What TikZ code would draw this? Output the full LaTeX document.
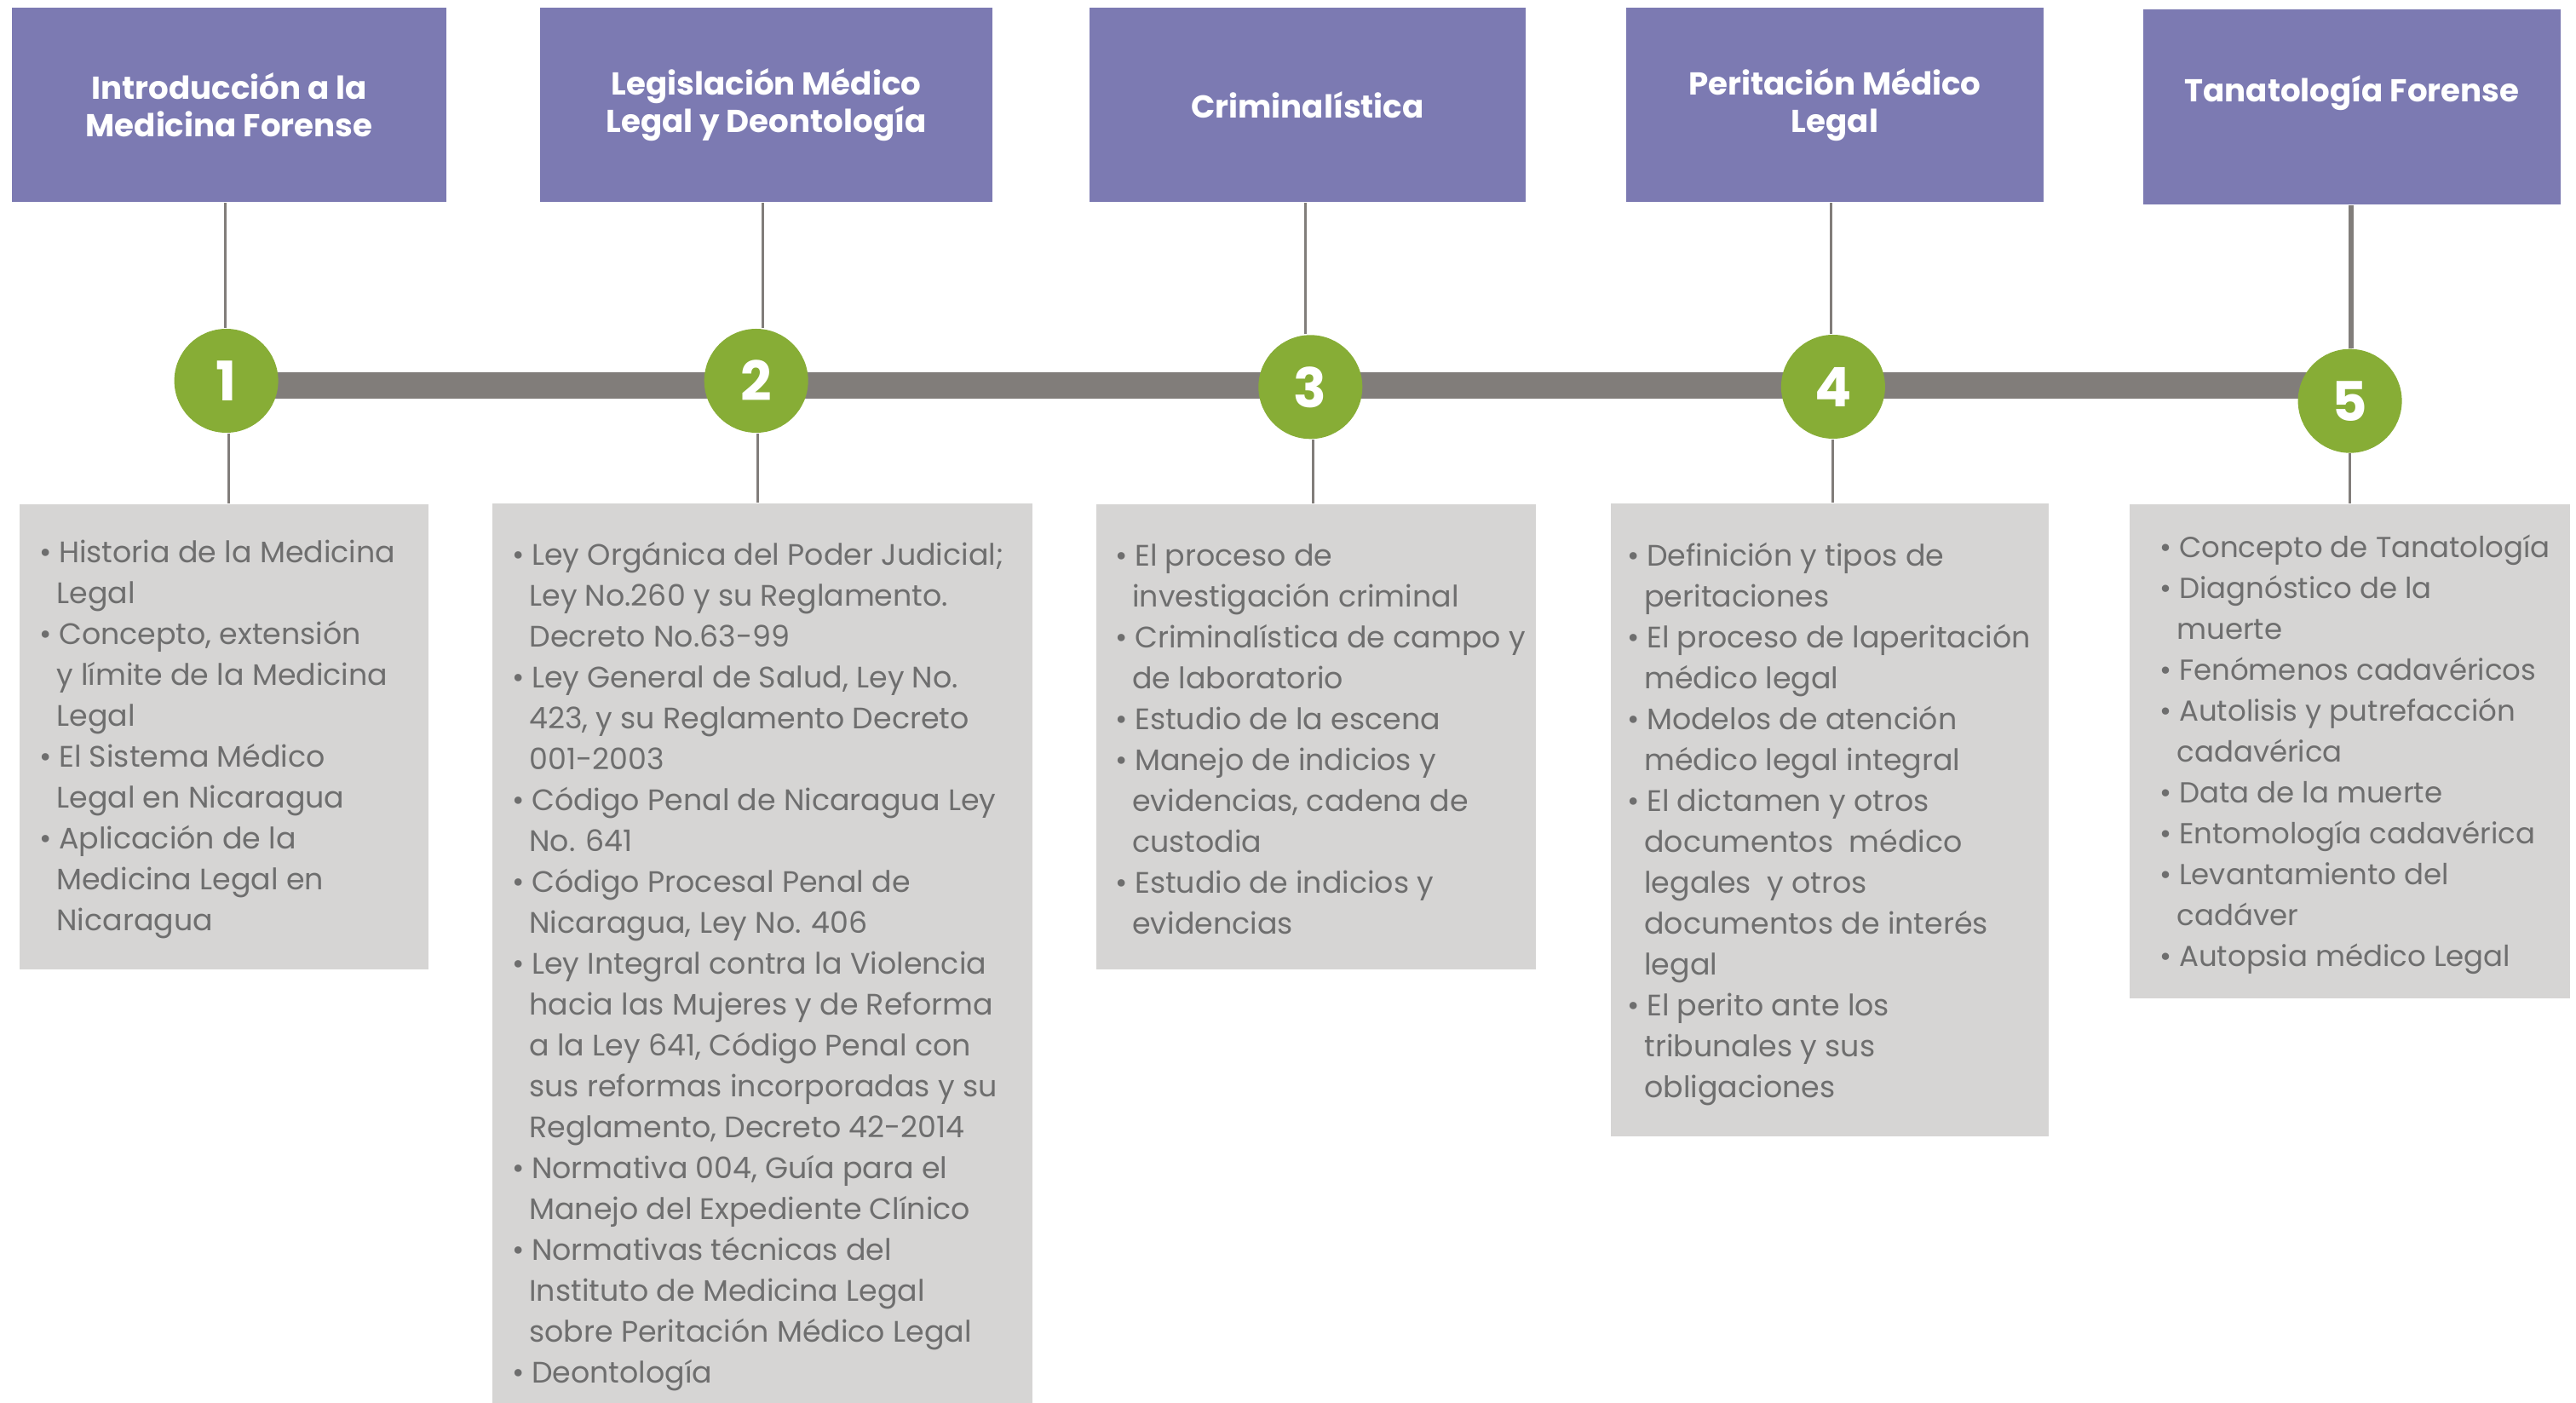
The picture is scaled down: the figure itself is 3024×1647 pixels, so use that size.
\documentclass[tikz,border=0pt]{standalone}
\usepackage{fontspec}
\setmainfont{Poppins}
\usetikzlibrary{backgrounds}
\definecolor{hdr}{HTML}{7C7AB2}
\definecolor{grn}{HTML}{87AD36}
\definecolor{barc}{HTML}{817D7A}
\definecolor{boxc}{HTML}{D6D5D4}
\definecolor{txt}{HTML}{6E6E6E}
\newcommand{\bu}{\makebox[5.6pt][l]{\textbullet}}
\newcommand{\ct}{\hspace*{4.9pt}}
\newcommand{\fs}{\rule{0pt}{10pt}}
\tikzset{
  hdrbox/.style={fill=hdr, draw=none, text=white, font=\fontsize{9.3}{10.9}\selectfont\bfseries, align=center, inner sep=0, minimum height=57pt},
  numc/.style={circle, fill=grn, minimum size=30.5pt, inner sep=0, text=white, font=\fontsize{16}{16}\selectfont\bfseries},
  cbox/.style={fill=boxc, inner sep=0, anchor=north west},
  ctext/.style={anchor=north west, inner sep=0, align=left, text=txt, font=\fontsize{8.7}{12}\selectfont},
  conn/.style={draw=barc, line width=0.75pt},
  bar/.style={draw=barc, line width=7.75pt}
}
\begin{document}
\begin{tikzpicture}[x=0.25pt,y=-0.25pt]
\useasboundingbox (0,0) rectangle (3024,1647);
% headers
\node[hdrbox, minimum width=127.5pt] (h1) at (269,123.4) {Introducción a la\\Medicina Forense};
\node[hdrbox, minimum width=132.8pt] (h2) at (899.5,123.4) {Legislación Médico\\Legal y Deontología};
\node[hdrbox, minimum width=127.8pt] (h3) at (1535,123.4) {Criminalística};
\node[hdrbox, minimum width=122.5pt] (h4) at (2154,123.4) {Peritación Médico\\Legal};
\node[hdrbox, minimum width=122.5pt, minimum height=57.4pt] (h5) at (2761,125.5) {Tanatología Forense\\\mbox{}};
% circles
\node[numc] (c1) at (265.6,447) {1};
\node[numc] (c2) at (887.7,447) {2};
\node[numc] (c3) at (1538.3,454.3) {3};
\node[numc] (c4) at (2151.9,454) {4};
\node[numc] (c5) at (2758.6,470.7) {5};
\coordinate (barY) at (0,452.5);
% content boxes
\node[cbox, minimum width=120pt, minimum height=136.6pt] (b1) at (22.3,591.2) {};
\node[cbox, minimum width=158.5pt, minimum height=264.3pt] (b2) at (577.2,589.8) {};
\node[cbox, minimum width=129pt, minimum height=136.6pt] (b3) at (1286,591.1) {};
\node[cbox, minimum width=128.6pt, minimum height=185.9pt] (b4) at (1889.8,590) {};
\node[cbox, minimum width=129.3pt, minimum height=145pt] (b5) at (2499,590.8) {};
% texts
\node[ctext] (t1) at (46,620) {\fs\bu Historia de la Medicina\\
\ct Legal\\
\bu Concepto, extensión\\
\ct y límite de la Medicina\\
\ct Legal\\
\bu El Sistema Médico\\
\ct Legal en Nicaragua\\
\bu Aplicación de la\\
\ct Medicina Legal en\\
\ct Nicaragua};
\node[ctext] (t2) at (601,623) {\fs\bu Ley Orgánica del Poder Judicial;\\
\ct Ley No.260 y su Reglamento.\\
\ct Decreto No.63-99\\
\bu Ley General de Salud, Ley No.\\
\ct 423, y su Reglamento Decreto\\
\ct 001-2003\\
\bu Código Penal de Nicaragua Ley\\
\ct No. 641\\
\bu Código Procesal Penal de\\
\ct Nicaragua, Ley No. 406\\
\bu Ley Integral contra la Violencia\\
\ct hacia las Mujeres y de Reforma\\
\ct a la Ley 641, Código Penal con\\
\ct sus reformas incorporadas y su\\
\ct Reglamento, Decreto 42-2014\\
\bu Normativa 004, Guía para el\\
\ct Manejo del Expediente Clínico\\
\bu Normativas técnicas del\\
\ct Instituto de Medicina Legal\\
\ct sobre Peritación Médico Legal\\
\bu Deontología};
\node[ctext] (t3) at (1309,624) {\fs\bu El proceso de\\
\ct investigación criminal\\
\bu Criminalística de campo y\\
\ct de laboratorio\\
\bu Estudio de la escena\\
\bu Manejo de indicios y\\
\ct evidencias, cadena de\\
\ct custodia\\
\bu Estudio de indicios y\\
\ct evidencias};
\node[ctext] (t4) at (1910,624) {\fs\bu Definición y tipos de\\
\ct peritaciones\\
\bu El proceso de laperitación\\
\ct médico legal\\
\bu Modelos de atención\\
\ct médico legal integral\\
\bu El dictamen y otros\\
\ct documentos\ \ médico\\
\ct legales\ \ y otros\\
\ct documentos de interés\\
\ct legal\\
\bu El perito ante los\\
\ct tribunales y sus\\
\ct obligaciones};
\node[ctext, font=\fontsize{8.5}{12}\selectfont] (t5) at (2535,614) {\fs\bu Concepto de Tanatología\\
\bu Diagnóstico de la\\
\ct muerte\\
\bu Fenómenos cadavéricos\\
\bu Autolisis y putrefacción\\
\ct cadavérica\\
\bu Data de la muerte\\
\bu Entomología cadavérica\\
\bu Levantamiento del\\
\ct cadáver\\
\bu Autopsia médico Legal};
% connectors
\begin{pgfonlayer}{background}
\draw[bar] (c1 |- barY) -- (c5 |- barY);
\draw[conn] ([xshift=-0.4pt]c1.north) -- ([xshift=-0.4pt]c1.north |- h1.south);
\draw[conn] ([xshift=1.9pt]c2.north) -- ([xshift=1.9pt]c2.north |- h2.south);
\draw[conn] ([xshift=-1.45pt]c3.north) -- ([xshift=-1.45pt]c3.north |- h3.south);
\draw[conn] ([xshift=-0.6pt]c4.north) -- ([xshift=-0.6pt]c4.north |- h4.south);
\draw[conn, line width=1.5pt] ([xshift=0.3pt]c5.north) -- ([xshift=0.3pt]c5.north |- h5.south);
\draw[conn] ([xshift=0.75pt]c1.south) -- ([xshift=0.75pt]c1.south |- b1.north);
\draw[conn] ([xshift=0.4pt]c2.south) -- ([xshift=0.4pt]c2.south |- b2.north);
\draw[conn] ([xshift=0.8pt]c3.south) -- ([xshift=0.8pt]c3.south |- b3.north);
\draw[conn] (c4.south) -- (c4.south |- b4.north);
\draw[conn] (c5.south) -- (c5.south |- b5.north);
\end{pgfonlayer}
\end{tikzpicture}
\end{document}
